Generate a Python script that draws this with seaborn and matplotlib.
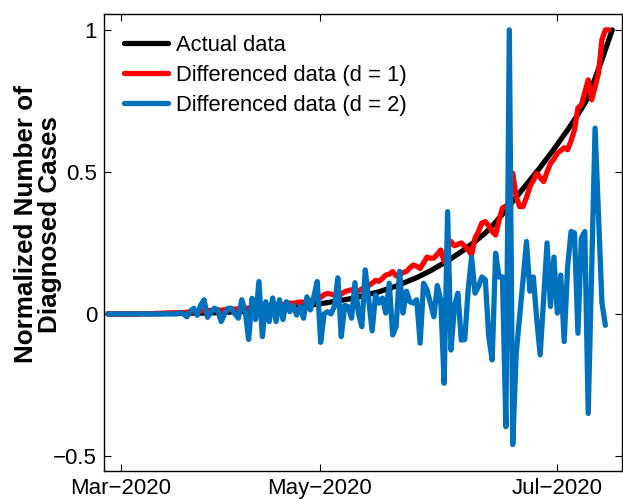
import numpy as np
import pandas as pd
import matplotlib
matplotlib.use("Agg")
import matplotlib.pyplot as plt
import seaborn as sns

# ---------------- data ----------------
actual = [
    0.000, 0.000, 0.000, 0.000, 0.000, 0.000, 0.000, 0.000, 0.000, 0.000,
    0.001, 0.001, 0.001, 0.001, 0.001, 0.001, 0.001, 0.002, 0.002, 0.002,
    0.002, 0.002, 0.002, 0.002, 0.003, 0.003, 0.003, 0.003, 0.003, 0.004,
    0.004, 0.004, 0.005, 0.005, 0.006, 0.006, 0.007, 0.007, 0.008, 0.008,
    0.009, 0.010, 0.010, 0.011, 0.012, 0.013, 0.014, 0.015, 0.016, 0.017,
    0.018, 0.019, 0.021, 0.022, 0.024, 0.025, 0.027, 0.028, 0.030, 0.031,
    0.033, 0.035, 0.036, 0.038, 0.040, 0.042, 0.044, 0.046, 0.048, 0.050,
    0.052, 0.055, 0.057, 0.060, 0.063, 0.066, 0.069, 0.072, 0.075, 0.078,
    0.082, 0.086, 0.090, 0.094, 0.098, 0.103, 0.108, 0.113, 0.118, 0.123,
    0.128, 0.134, 0.140, 0.146, 0.152, 0.159, 0.166, 0.173, 0.180, 0.187,
    0.195, 0.203, 0.211, 0.219, 0.228, 0.237, 0.246, 0.255, 0.265, 0.275,
    0.285, 0.297, 0.310, 0.323, 0.337, 0.351, 0.366, 0.381, 0.396, 0.411,
    0.426, 0.441, 0.456, 0.471, 0.486, 0.501, 0.516, 0.532, 0.548, 0.564,
    0.580, 0.597, 0.614, 0.631, 0.648, 0.666, 0.684, 0.703, 0.722, 0.742,
    0.765, 0.797, 0.829, 0.862, 0.895, 0.930, 0.965, 1.000,
]

diff1 = [
    0.000, 0.000, 0.000, 0.000, 0.000, 0.000, 0.000, 0.000, 0.000, 0.000,
    0.001, 0.001, 0.001, 0.001, 0.002, 0.002, 0.002, 0.003, 0.003, 0.004,
    0.004, 0.005, 0.005, 0.006, 0.007, 0.008, 0.009, 0.010, 0.011, 0.012,
    0.012, 0.013, 0.014, 0.013, 0.015, 0.016, 0.015, 0.017, 0.018, 0.017,
    0.019, 0.021, 0.020, 0.023, 0.025, 0.024, 0.027, 0.030, 0.029, 0.032,
    0.034, 0.033, 0.036, 0.038, 0.037, 0.040, 0.042, 0.041, 0.045, 0.047,
    0.050, 0.053, 0.058, 0.068, 0.072, 0.070, 0.066, 0.064, 0.070, 0.078,
    0.082, 0.085, 0.083, 0.080, 0.088, 0.095, 0.100, 0.108, 0.118, 0.115,
    0.125, 0.137, 0.140, 0.149, 0.134, 0.138, 0.145, 0.150, 0.162, 0.172,
    0.168, 0.160, 0.180, 0.200, 0.196, 0.197, 0.210, 0.225, 0.184, 0.230,
    0.255, 0.240, 0.245, 0.250, 0.238, 0.225, 0.208, 0.267, 0.290, 0.320,
    0.325, 0.310, 0.290, 0.278, 0.330, 0.373, 0.380, 0.390, 0.495, 0.413,
    0.378, 0.378, 0.410, 0.448, 0.470, 0.495, 0.480, 0.466, 0.500, 0.530,
    0.545, 0.566, 0.575, 0.585, 0.578, 0.610, 0.648, 0.725, 0.736, 0.780,
    0.824, 0.754, 0.800, 0.848, 0.965, 1.000, 1.000,
]

diff2 = [
    0.000, 0.000, 0.000, 0.000, 0.000, 0.000, 0.000, 0.000, 0.000, 0.000,
    0.000, 0.000, 0.000, 0.000, 0.000, 0.000, 0.000, 0.000, 0.000, 0.000,
    0.000, 0.004, 0.000, -0.010, 0.010, 0.020, -0.005, 0.030, 0.050, -0.012,
    0.005, 0.020, 0.014, -0.027, 0.000, 0.020,
    0.020, 0.000, -0.015, 0.050, 0.010, -0.090, 0.055, -0.020, 0.114, -0.080,
    0.043, -0.027, 0.056, -0.027, 0.050, -0.020, 0.043, 0.008, 0.030, -0.004,
    0.026, -0.015, 0.060, 0.014, 0.060, 0.114, -0.100, 0.000, 0.008, 0.000,
    0.026, 0.127, -0.080, 0.030, 0.026, -0.015,
    0.110, 0.003, -0.045, 0.155, 0.050, -0.060, 0.067, 0.038, 0.056, 0.003,
    0.108, -0.074, -0.045, 0.150, 0.003, 0.080, 0.043, 0.038, 0.050, -0.103,
    0.108, 0.085, 0.038, -0.010, 0.100, 0.050, -0.244, 0.360, -0.127, 0.026,
    0.073, -0.092, -0.090, 0.085, 0.200, 0.073, 0.096, 0.130,
    0.120, -0.080, -0.162, 0.214, 0.130, 0.130, -0.397, 1.000, -0.460, -0.140,
    -0.010, 0.120, 0.255, 0.080, 0.130, -0.020, -0.144, 0.050, 0.250, 0.026,
    0.200, 0.003, 0.137, -0.097, 0.167, 0.290, 0.285, -0.068, 0.267, 0.290,
    -0.350, 0.150, 0.654, 0.350, 0.040, -0.040,
]

series_names = ["Actual data", "Differenced data (d = 1)", "Differenced data (d = 2)"]
series_colors = ["#000000", "#FF0000", "#0072BD"]
x_tick_pos = [3.8, 61.8, 130.9]
x_tick_labels = ["Mar\u22122020", "May\u22122020", "Jul\u22122020"]
y_ticks = [-0.5, 0, 0.5, 1]
y_tick_labels = ["\u22120.5", "0", "0.5", "1"]

# ---------------- build long table ----------------
frames = []
for name, vals in zip(series_names, [actual, diff1, diff2]):
    frames.append(pd.DataFrame({"day": np.arange(len(vals)), "value": vals, "series": name}))
df = pd.concat(frames, ignore_index=True)

sns.set_style("ticks")
plt.rcParams["font.family"] = ["Liberation Sans", "DejaVu Sans"]
plt.rcParams["text.color"] = "black"
plt.rcParams["axes.labelcolor"] = "black"

fig = plt.figure(figsize=(6.23, 4.99), dpi=100)
ax = fig.add_axes([104 / 623, 1 - 471 / 499, (622 - 104) / 623, (471 - 14) / 499])

sns.lineplot(data=df, x="day", y="value", hue="series", hue_order=series_names,
             palette=dict(zip(series_names, series_colors)), linewidth=3.8,
             ax=ax, legend=True, estimator=None, sort=False)

ax.set_xlim(-1.17, 149.85)
ax.set_ylim(-0.553, 1.056)
ax.set_xticks(x_tick_pos)
ax.set_xticklabels(x_tick_labels)
ax.set_yticks(y_ticks)
ax.set_yticklabels(y_tick_labels)
ax.tick_params(direction="in", length=5, width=0.8, labelsize=16, top=True, right=True,
               colors="black")
ax.tick_params(axis="x", pad=5)
ax.tick_params(axis="y", pad=5)
for s in ax.spines.values():
    s.set_visible(True)
    s.set_linewidth(1.0)
    s.set_color("black")

ax.set_xlabel("")
ax.set_ylabel("Normalized Number of\nDiagnosed Cases", fontsize=18.7, fontweight="bold",
              linespacing=0.98, color="black")
ax.yaxis.set_label_coords(-0.081, 0.540)

handles, labels = ax.get_legend_handles_labels()
leg = ax.legend(handles, labels, loc="upper left", bbox_to_anchor=(0.0, 0.998), frameon=False,
                fontsize=15.8, handlelength=2.0, handletextpad=0.4, labelspacing=0.42,
                borderaxespad=0.5)
for t in leg.get_texts():
    t.set_color("black")
for line in leg.get_lines():
    line.set_linewidth(3.8)

fig.savefig("out.png", dpi=100)
